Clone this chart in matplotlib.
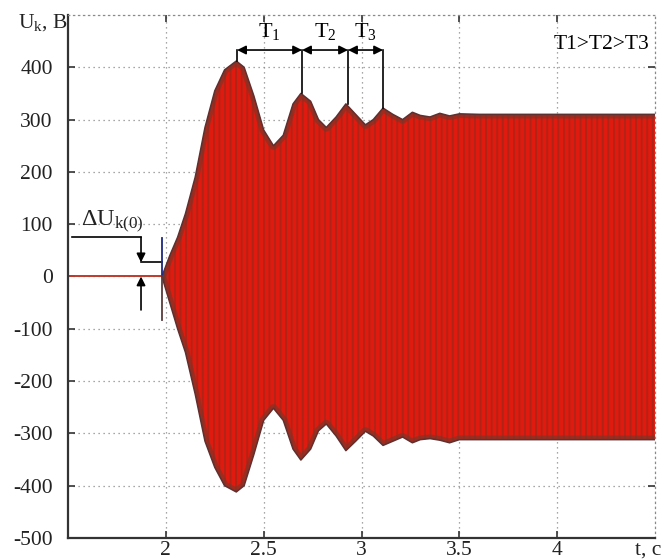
import matplotlib
matplotlib.use('Agg')
import matplotlib.pyplot as plt

plt.rcParams['font.family'] = ['Liberation Serif', 'DejaVu Serif']
plt.rcParams['mathtext.fontset'] = 'custom'
plt.rcParams['mathtext.rm'] = 'Liberation Serif'
plt.rcParams['mathtext.it'] = 'Liberation Serif'
plt.rcParams['axes.unicode_minus'] = False
plt.rcParams['hatch.linewidth'] = 1.3

# envelope of the capacitor voltage Uk, t in s, Uk in V
t_env = [1.98, 2.02, 2.06, 2.10, 2.15, 2.20, 2.25, 2.30, 2.36, 2.40, 2.45, 2.50,
         2.55, 2.60, 2.65, 2.69, 2.74, 2.78, 2.82, 2.87, 2.92, 2.97, 3.02, 3.06,
         3.11, 3.16, 3.21, 3.26, 3.30, 3.35, 3.40, 3.45, 3.50, 3.60, 4.50]
u_upper = [0, 40, 75, 120, 190, 285, 355, 395, 412, 400, 345, 280,
           250, 270, 330, 350, 335, 300, 285, 305, 330, 310, 290, 300,
           322, 310, 300, 314, 308, 305, 312, 307, 311, 310, 310]
u_lower = [0, -50, -100, -145, -225, -315, -365, -400, -412, -400, -340, -275,
           -252, -275, -330, -351, -330, -295, -282, -305, -333, -315, -296, -305,
           -323, -315, -307, -318, -312, -310, -313, -318, -312, -312, -312]

# voltage before the oscillations start
t_pre = [1.5, 1.98]
u_pre = [0, 0]

# envelope peaks marking the periods T1, T2, T3
t_peaks = [2.364, 2.696, 2.931, 3.110]
u_peaks = [412, 350, 330, 322]
period_names = ['T_1', 'T_2', 'T_3']

x_ticks = [2, 2.5, 3, 3.5, 4]
x_labels = ['2', '2.5', '3', '3.5', '4']
y_ticks = [-500, -400, -300, -200, -100, 0, 100, 200, 300, 400]

fs = 15.5

fig = plt.figure(figsize=(6.65, 5.59), dpi=100)
ax = fig.add_axes([0.1023, 0.0376, 0.8827, 0.9356])
ax.set_xlim(1.5, 4.5)
ax.set_ylim(-500, 500)
ax.set_axisbelow(True)
ax.grid(True, linestyle=(0, (1, 3)), color='#8a8a8a', lw=0.9)

# oscillation band
band = ax.fill_between(t_env, u_lower, u_upper, facecolor='#e01a0e', edgecolor='none', zorder=2)
ax.fill_between(t_env, u_lower, u_upper, facecolor='none', edgecolor='#b02418',
                hatch='|||', linewidth=0, zorder=2.1)
band_path = band.get_paths()[0]
for u_env in [u_upper, u_lower]:
    edge, = ax.plot(t_env, u_env, color='#6a3a2e', lw=6, alpha=0.55, zorder=2.15)
    edge.set_clip_path(band_path, transform=ax.transData)
    ax.plot(t_env, u_env, color='#5e3030', lw=1.1, zorder=2.2)
ax.plot(t_pre, u_pre, color='#c0392b', lw=1.4, zorder=2.3)

# periods between peaks
y_arr = 433
for tp, up in zip(t_peaks, u_peaks):
    ax.plot([tp, tp], [y_arr, up], color='k', lw=1.2, zorder=3)
for i, name in enumerate(period_names):
    ax.annotate('', xy=(t_peaks[i + 1], y_arr), xytext=(t_peaks[i], y_arr),
                arrowprops=dict(arrowstyle='<|-|>', color='k', lw=1.2,
                                shrinkA=0, shrinkB=0, mutation_scale=13), zorder=3)
    ax.text((t_peaks[i] + t_peaks[i + 1]) / 2, 468, r'$\mathregular{%s}$' % name,
            ha='center', va='center', fontsize=fs + 0.5)

ax.text(4.47, 443, 'T1>T2>T3', ha='right', va='center', fontsize=fs)

# initial deviation dU_k(0)
t_mark = 1.873
ax.plot([1.52, t_mark], [75, 75], color='k', lw=1.2, zorder=3)
ax.annotate('', xy=(t_mark, 27), xytext=(t_mark, 75),
            arrowprops=dict(arrowstyle='-|>', color='k', lw=1.2, shrinkA=0, shrinkB=0,
                            mutation_scale=13), zorder=3)
ax.plot([t_mark, 1.98], [27, 27], color='k', lw=1.2, zorder=3)
ax.annotate('', xy=(t_mark, 0), xytext=(t_mark, -64),
            arrowprops=dict(arrowstyle='-|>', color='k', lw=1.2, shrinkA=0, shrinkB=0,
                            mutation_scale=13), zorder=3)
ax.plot([1.98, 1.98], [73, 0], color='#1c2a80', lw=1.3, zorder=3)
ax.plot([1.98, 1.98], [0, -83], color='#5a3a3a', lw=1.3, zorder=3)
ax.text(1.568, 104, r'$\mathregular{\Delta U_{k(0)}}$', ha='left', va='center', fontsize=17.5,
        color='#222222', zorder=3)

# axes look
for side in ['top', 'right']:
    ax.spines[side].set_linestyle((0, (1, 3)))
    ax.spines[side].set_color('#8a8a8a')
    ax.spines[side].set_linewidth(0.9)
for side in ['left', 'bottom']:
    ax.spines[side].set_color('#333333')
    ax.spines[side].set_linewidth(1.6)

ax.set_xticks(x_ticks)
ax.set_xticklabels(x_labels)
ax.set_yticks(y_ticks)
ax.tick_params(axis='both', direction='in', length=5, width=1.2, color='#333333',
               labelcolor='#222222', top=True, right=True, labelsize=fs)
ax.tick_params(axis='y', pad=11)
ax.tick_params(axis='x', pad=2)

fig.text(18 / 665, 1 - 23 / 559, r'$\mathregular{U_k}$, B', ha='left', va='center',
         fontsize=fs, color='#222222')
fig.text(648 / 665, 1 - 550 / 559, 't, c', ha='center', va='center', fontsize=fs,
         color='#222222')

fig.savefig('out.png', dpi=100)
